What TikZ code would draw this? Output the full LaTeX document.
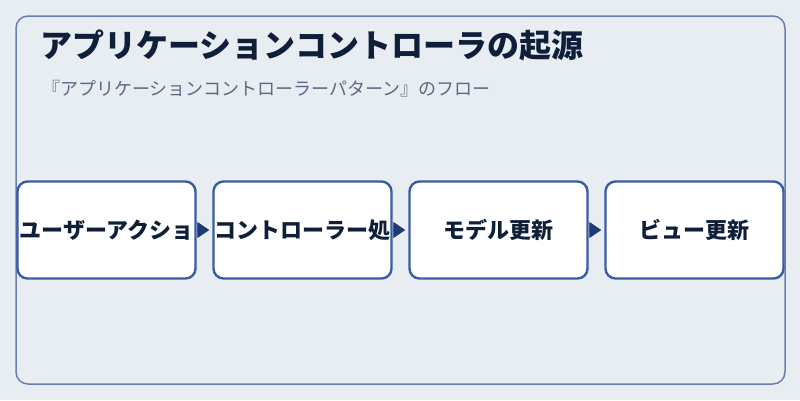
\documentclass[tikz,border=0pt]{standalone}
\usepackage{fontspec}
\setmainfont{Noto Sans CJK JP}
\usetikzlibrary{arrows.meta}
\definecolor{bg}{HTML}{E8EDF2}
\definecolor{frame}{HTML}{6A7FAD}
\definecolor{boxline}{HTML}{3A5BA5}
\definecolor{titlec}{HTML}{0F1F3A}
\definecolor{subc}{HTML}{5A6A85}
\definecolor{arrowc}{HTML}{1E3A70}
\tikzset{
  stepbox/.style={draw=boxline, line width=2.4pt, fill=white, rounded corners=10pt,
    minimum width=178pt, minimum height=97pt, inner sep=0pt,
    font=\fontsize{22}{26}\selectfont\bfseries, text=titlec},
  flow/.style={draw=arrowc, line width=0.8pt, -{Triangle[length=12pt,width=16pt]}, arrowc, shorten >=3pt},
}
\begin{document}
\begin{tikzpicture}[x=1pt,y=-1pt]
\useasboundingbox (0,0) rectangle (800,400);
\fill[bg] (0,0) rectangle (800,400);
\draw[frame, line width=1.5pt, rounded corners=12pt] (16,16) rectangle (785,384);
\node[anchor=base west, font=\fontsize{32}{38}\selectfont\bfseries, text=titlec, inner sep=0pt] (title) at (40,57) {アプリケーションコントローラの起源};
\node[anchor=base west, font=\fontsize{18}{22}\selectfont, text=subc, inner sep=0pt] (sub) at (42,95) {『アプリケーションコントローラーパターン』のフロー};
\node[stepbox] (b1) at (106.5,230) {ユーザーアクショ};
\node[stepbox] (b2) at (302.5,230) {コントローラー処};
\node[stepbox] (b3) at (498.5,230) {モデル更新};
\node[stepbox] (b4) at (694.5,230) {ビュー更新};
\draw[flow] (b1) -- (b2);
\draw[flow] (b2) -- (b3);
\draw[flow] (b3) -- (b4);
\end{tikzpicture}
\end{document}
